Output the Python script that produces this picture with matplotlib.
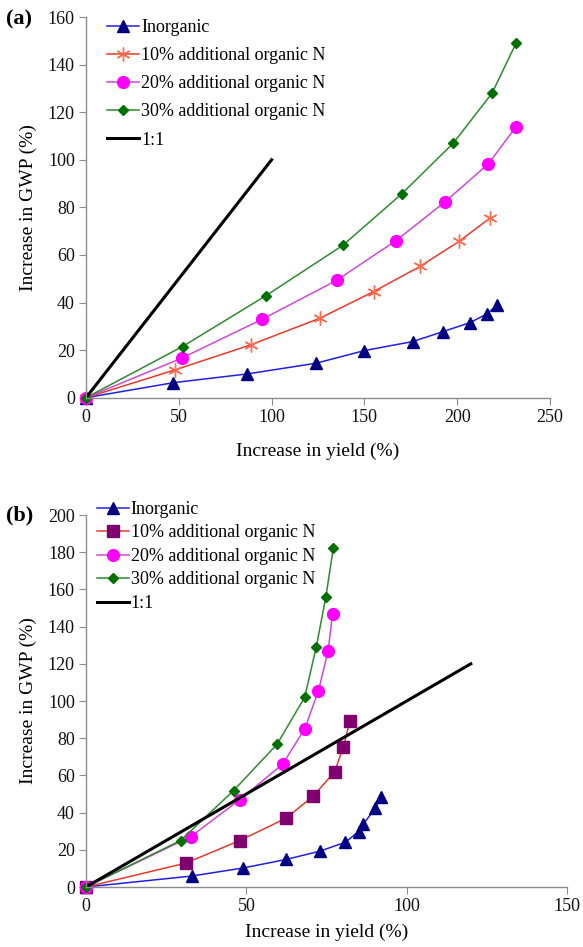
import matplotlib
matplotlib.use('Agg')
from matplotlib import pyplot as plt

plt.rcParams['font.family'] = ['Liberation Serif', 'DejaVu Serif']

# Panel (a) data: increase in yield (%) vs increase in GWP (%)
a_inorg_x = [0, 47, 87, 124, 150, 176, 192.5, 207, 216, 221.6]
a_inorg_y = [0, 6.3, 10, 14.5, 19.8, 23.6, 27.8, 31.6, 35.2, 39]
a_10_x = [0, 48, 88.7, 126, 155, 180, 201, 217.7]
a_10_y = [0, 11.7, 22.2, 33.4, 44.6, 55.2, 65.7, 75.5]
a_20_x = [0, 51.5, 95, 135, 167, 193.4, 216.8, 231.7]
a_20_y = [0, 16.6, 33, 49.3, 66, 82.3, 98.3, 113.9]
a_30_x = [0, 52, 96.8, 138.3, 170.3, 197.9, 218.8, 231.7]
a_30_y = [0, 21.5, 42.8, 64, 85.8, 107, 128, 149]
a_one = [0, 100]

# Panel (b) data
b_inorg_x = [0, 33, 48.9, 62.4, 73, 80.9, 85, 86.5, 90.2, 91.9]
b_inorg_y = [0, 5.9, 10.2, 14.8, 19.3, 24.1, 29.8, 33.9, 42.3, 48.6]
b_10_x = [0, 31.2, 48, 62.4, 70.8, 77.5, 80.3, 82.3]
b_10_y = [0, 12.9, 25, 37, 48.8, 61.8, 75.5, 89.3]
b_20_x = [0, 32.6, 48, 61.3, 68.2, 72.5, 75.5, 76.9]
b_20_y = [0, 27, 47, 66, 85, 105.5, 127, 147]
b_30_x = [0, 29.5, 46, 59.6, 68.2, 71.8, 74.8, 77.1]
b_30_y = [0, 25, 51.8, 76.8, 102, 129, 156, 182]
b_one = [0, 120]

labels = ['Inorganic', '10% additional organic N', '20% additional organic N',
          '30% additional organic N', '1:1']

FS = 13
AXIS_GRAY = '#8c8c8c'


def style_axes(ax, xpad):
    for side in ['top', 'right']:
        ax.spines[side].set_visible(False)
    for side in ['left', 'bottom']:
        ax.spines[side].set_color(AXIS_GRAY)
        ax.spines[side].set_linewidth(1.0)
    ax.tick_params(direction='out', color=AXIS_GRAY, length=5, pad=3,
                   labelsize=FS, labelcolor='#111111')
    ax.set_xlabel('Increase in yield (%)', fontsize=14, labelpad=xpad)
    ax.set_ylabel('Increase in GWP (%)', fontsize=14, labelpad=8)


def draw_panel(ax, data, ten_marker, ten_mfc, ten_ms, one):
    (ix, iy), (tx, ty), (wx, wy), (hx, hy) = data
    ax.plot(ix, iy, color='#2020e0', lw=1.1, marker='^', ms=8,
            mfc='#000080', mec='#000080', clip_on=False, label=labels[0])
    ax.plot(tx, ty, color='#e83a2a', lw=1.1, marker=ten_marker, ms=ten_ms,
            mfc=ten_mfc, mec=ten_mfc, mew=1.0, clip_on=False, label=labels[1])
    ax.plot(wx, wy, color='#d048d8', lw=1.1, marker='o', ms=8.5,
            mfc='#ff00ff', mec='#ff00ff', clip_on=False, label=labels[2])
    ax.plot(hx, hy, color='#2e8b2e', lw=1.1, marker='D', ms=5.5,
            mfc='#007000', mec='#007000', clip_on=False, label=labels[3])
    ax.plot(one, one, color='black', lw=2.2, label=labels[4])


fig = plt.figure(figsize=(5.83, 9.47), dpi=100)

# (a)
ax1 = fig.add_axes([86 / 583, 1 - 397.7 / 947, 464 / 583, 380.7 / 947])
draw_panel(ax1, [(a_inorg_x, a_inorg_y), (a_10_x, a_10_y), (a_20_x, a_20_y),
                 (a_30_x, a_30_y)], (6, 2, 0), '#ff6a50', 10, a_one)
ax1.set_xlim(0, 250)
ax1.set_ylim(0, 160)
ax1.set_xticks(range(0, 251, 50))
ax1.set_yticks(range(0, 161, 20))
style_axes(ax1, 12)
ax1.legend(loc='upper left', bbox_to_anchor=(0.045, 0.995), frameon=False,
           fontsize=FS, handlelength=1.8, handletextpad=0.1,
           labelspacing=0.62, borderaxespad=0, borderpad=0)
fig.text(6 / 583, 1 - 19 / 947, '(a)', fontsize=16, fontweight='bold', va='center')

# (b)
ax2 = fig.add_axes([86 / 583, 1 - 887 / 947, 481 / 583, 372 / 947])
draw_panel(ax2, [(b_inorg_x, b_inorg_y), (b_10_x, b_10_y), (b_20_x, b_20_y),
                 (b_30_x, b_30_y)], 's', '#800070', 8, b_one)
ax2.set_xlim(0, 150)
ax2.set_ylim(0, 200)
ax2.set_xticks(range(0, 151, 50))
ax2.set_yticks(range(0, 201, 20))
style_axes(ax2, 6)
ax2.legend(loc='upper left', bbox_to_anchor=(0.022, 1.038), frameon=False,
           fontsize=FS, handlelength=1.8, handletextpad=0.1,
           labelspacing=0.36, borderaxespad=0, borderpad=0)
fig.text(6 / 583, 1 - 515 / 947, '(b)', fontsize=16, fontweight='bold', va='center')

fig.savefig('out.png', dpi=100)
